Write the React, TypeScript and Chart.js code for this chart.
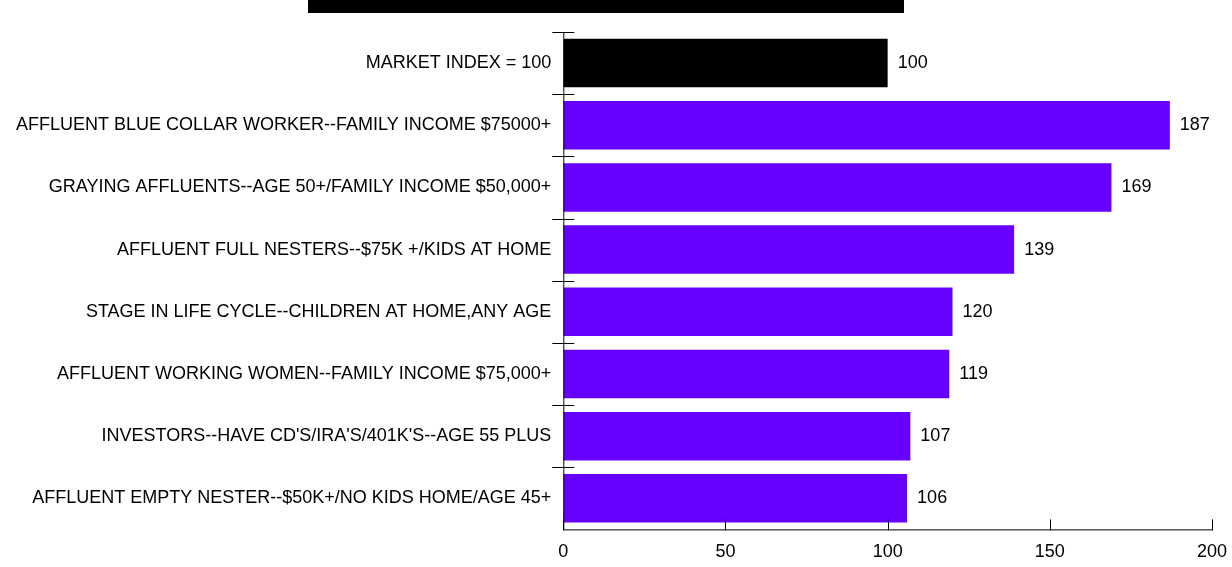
import React, { useEffect, useRef } from "react";
import { Chart, registerables } from "chart.js";

Chart.register(...registerables);

const categories = [
  "MARKET INDEX = 100",
  "AFFLUENT BLUE COLLAR WORKER--FAMILY INCOME $75000+",
  "GRAYING AFFLUENTS--AGE 50+/FAMILY INCOME $50,000+",
  "AFFLUENT FULL NESTERS--$75K +/KIDS AT HOME",
  "STAGE IN LIFE CYCLE--CHILDREN AT HOME,ANY AGE",
  "AFFLUENT WORKING WOMEN--FAMILY INCOME $75,000+",
  "INVESTORS--HAVE CD'S/IRA'S/401K'S--AGE 55 PLUS",
  "AFFLUENT EMPTY NESTER--$50K+/NO KIDS HOME/AGE 45+",
];
const values = [100, 187, 169, 139, 120, 119, 107, 106];
const barColors = ["#000000", "#6600ff", "#6600ff", "#6600ff", "#6600ff", "#6600ff", "#6600ff", "#6600ff"];
const xTicks = [0, 50, 100, 150, 200];

const FONT = "'Liberation Sans', Arial, sans-serif";
const FS = 18;

const tickPlugin = {
  id: "crossTicks",
  afterDraw(chart: any) {
    const ctx = chart.ctx;
    const x = chart.scales.x;
    const y = chart.scales.y;
    const area = chart.chartArea;
    ctx.save();
    ctx.strokeStyle = "#000";
    ctx.lineWidth = 1;
    ctx.beginPath();
    ctx.moveTo(area.left + 0.5, area.top);
    ctx.lineTo(area.left + 0.5, area.bottom + 0.5);
    ctx.stroke();
    ctx.beginPath();
    ctx.moveTo(area.left, area.bottom + 0.5);
    ctx.lineTo(area.right + 0.5, area.bottom + 0.5);
    ctx.stroke();
    const n = categories.length;
    const step = y.getPixelForValue(1) - y.getPixelForValue(0);
    for (let i = 0; i < n; i++) {
      const py = Math.round(y.getPixelForValue(i) - step / 2) + 0.5;
      ctx.beginPath();
      ctx.moveTo(area.left - 11, py);
      ctx.lineTo(area.left + 11, py);
      ctx.stroke();
    }
    for (const v of xTicks) {
      const px = Math.round(x.getPixelForValue(v)) + 0.5;
      ctx.beginPath();
      ctx.moveTo(px, area.bottom - 10);
      ctx.lineTo(px, area.bottom + 1);
      ctx.stroke();
    }
    ctx.fillStyle = "#000";
    ctx.font = `${FS}px ${FONT}`;
    ctx.textAlign = "left";
    ctx.textBaseline = "middle";
    values.forEach((v, i) => {
      ctx.fillText(String(v), x.getPixelForValue(v) + 10, y.getPixelForValue(i));
    });
    ctx.restore();
  },
};

export default function App() {
  const ref = useRef<HTMLCanvasElement>(null);
  useEffect(() => {
    const chart = new Chart(ref.current!, {
      type: "bar",
      data: {
        labels: categories,
        datasets: [
          {
            data: values,
            backgroundColor: barColors,
            barPercentage: 0.78,
            categoryPercentage: 1,
          },
        ],
      },
      options: {
        indexAxis: "y",
        animation: false,
        responsive: false,
        layout: { padding: { top: 32, right: 0, bottom: 0, left: 4 } },
        plugins: { legend: { display: false }, tooltip: { enabled: false } },
        scales: {
          x: {
            min: 0,
            max: 200,
            afterBuildTicks: (s: any) => {
              s.ticks = xTicks.map((v) => ({ value: v }));
            },
            afterFit: (s: any) => {
              s.paddingRight = 20;
            },
            grid: { display: false, drawTicks: false },
            border: { display: false },
            ticks: { color: "#000", font: { family: FONT, size: FS }, padding: 12, maxRotation: 0 },
          },
          y: {
            grid: { display: false, drawTicks: false },
            border: { display: false },
            ticks: { color: "#000", font: { family: FONT, size: FS }, padding: 12, autoSkip: false },
          },
        },
      },
      plugins: [tickPlugin],
    });
    return () => chart.destroy();
  }, []);
  return (
    <div style={{ position: "fixed", left: 0, top: 0, width: 1232, height: 567, background: "#fff", overflow: "hidden" }}>
      <div style={{ position: "absolute", left: 308, top: 0, width: 596, height: 13, background: "#000" }} />
      <canvas ref={ref} width={1232} height={575} style={{ position: "absolute", left: 0, top: 0 }} />
    </div>
  );
}
